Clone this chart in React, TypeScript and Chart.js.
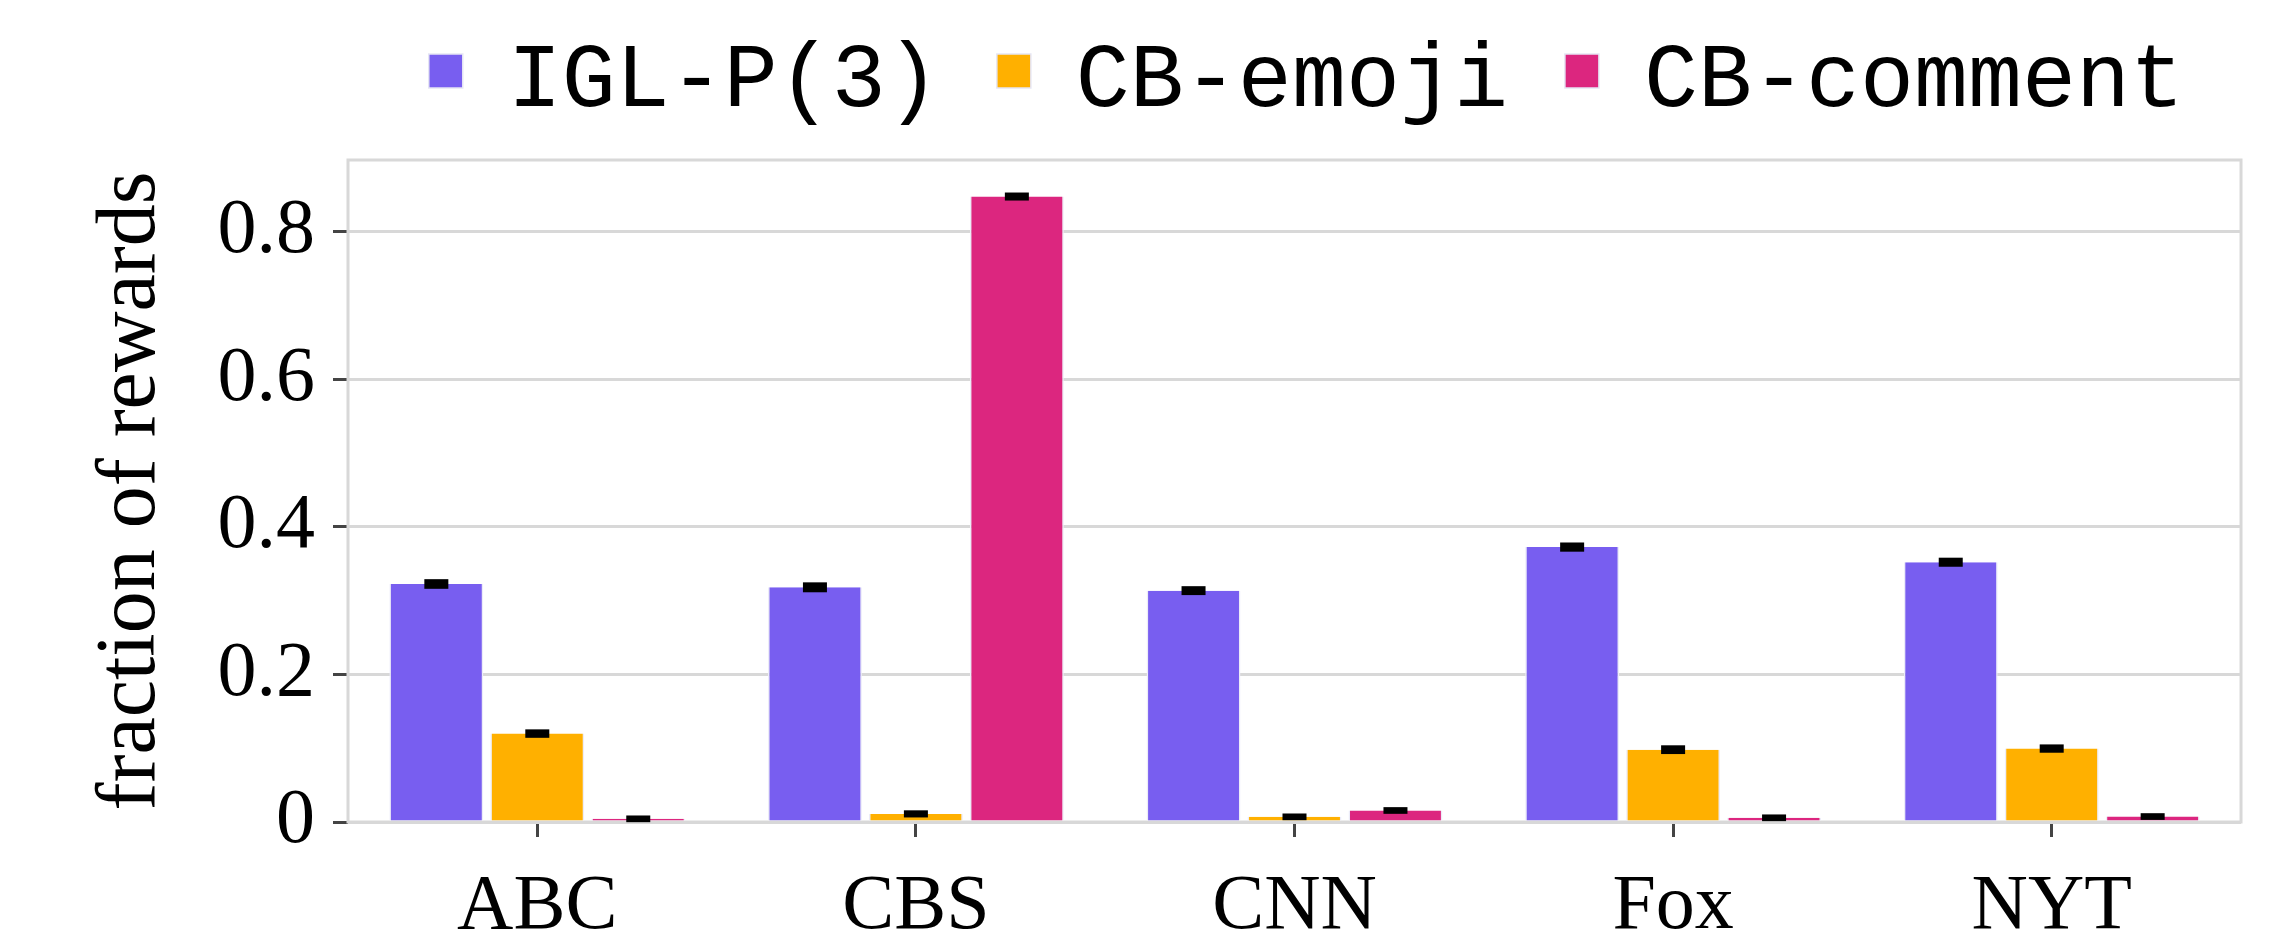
import React, { useEffect, useRef } from "react";
import { Chart, registerables } from "chart.js";

Chart.register(...registerables);

// ---- data ----
const categories = ["ABC", "CBS", "CNN", "Fox", "NYT"];
const seriesNames = ["IGL-P(3)", "CB-emoji", "CB-comment"];
const iglValues = [0.3225, 0.318, 0.3135, 0.3725, 0.352];
const emojiValues = [0.1198, 0.011, 0.007, 0.098, 0.0995];
const commentValues = [0.0043, 0.8475, 0.0156, 0.0057, 0.0074];
const iglErrors = [0.0045, 0.0047, 0.004, 0.0042, 0.0041];
const emojiErrors = [0.0037, 0.0028, 0.0025, 0.0039, 0.0036];
const commentErrors = [0.0025, 0.0034, 0.0025, 0.0025, 0.0025];
const yTickValues = [0, 0.2, 0.4, 0.6, 0.8];
const yTickLabels = ["0", "0.2", "0.4", "0.6", "0.8"];
const yMin = 0;
const yMax = 0.897;
const yTitle = "fraction of rewards";
const seriesColors = ["#785EF0", "#FFB000", "#DC267F"];

const W = 2277;
const H = 940;
const SERIF = '"Liberation Serif", "Times New Roman", Times, serif';
const MONO = '"Courier New", "Liberation Mono", monospace';

const framePlugin = {
  id: "frame",
  beforeDatasetsDraw(chart: any) {
    const { ctx, chartArea: a } = chart;
    ctx.save();
    ctx.strokeStyle = "#d8d8d8";
    ctx.lineWidth = 3;
    ctx.strokeRect(a.left, a.top, a.right - a.left, a.bottom - a.top);
    ctx.restore();
  },
};

const errorBarPlugin = {
  id: "errorBars",
  afterDatasetsDraw(chart: any) {
    const { ctx } = chart;
    const ys = chart.scales.y;
    chart.data.datasets.forEach((ds: any, i: number) => {
      const meta = chart.getDatasetMeta(i);
      meta.data.forEach((bar: any, j: number) => {
        const v = ds.data[j];
        const e = ds.errors[j];
        const yTop = ys.getPixelForValue(v + e);
        const yBot = ys.getPixelForValue(v - e);
        ctx.save();
        ctx.fillStyle = "#000";
        ctx.fillRect(bar.x - 12, yTop - 1.5, 24, yBot - yTop + 3);
        ctx.restore();
      });
    });
  },
};

const legendPlugin = {
  id: "customLegend",
  afterDraw(chart: any) {
    const { ctx, chartArea: a } = chart;
    const box = 34;
    const gap = 45;
    const pad = 57;
    ctx.save();
    ctx.font = `90px ${MONO}`;
    const widths = chart.data.datasets.map((ds: any) => ctx.measureText(ds.label).width);
    let total = 0;
    widths.forEach((w: number) => (total += box + gap + w + pad));
    let x = a.right - total;
    chart.data.datasets.forEach((ds: any, i: number) => {
      ctx.fillStyle = ds.backgroundColor;
      ctx.fillRect(x, 54, box, box);
      ctx.strokeStyle = "#e6e6f4";
      ctx.lineWidth = 1.5;
      ctx.strokeRect(x, 54, box, box);
      ctx.fillStyle = "#000";
      ctx.textBaseline = "alphabetic";
      ctx.textAlign = "left";
      ctx.fillText(ds.label, x + box + gap, 106);
      x += box + gap + widths[i] + pad;
    });
    ctx.restore();
  },
};

export default function App() {
  const ref = useRef<HTMLCanvasElement | null>(null);

  useEffect(() => {
    if (!ref.current) return;
    const values = [iglValues, emojiValues, commentValues];
    const errors = [iglErrors, emojiErrors, commentErrors];
    const chart = new Chart(ref.current, {
      type: "bar",
      data: {
        labels: categories,
        datasets: seriesNames.map((name, i) => ({
          label: name,
          data: values[i],
          errors: errors[i],
          backgroundColor: seriesColors[i],
          borderColor: "#ececf8",
          borderWidth: { left: 1.5, right: 1.5, top: 0, bottom: 0 },
          categoryPercentage: 0.8,
          barPercentage: 0.93,
        })) as any,
      },
      options: {
        animation: false,
        responsive: false,
        devicePixelRatio: 1,
        layout: { padding: { left: 0, right: 36, top: 160, bottom: 0 } },
        plugins: {
          legend: { display: false },
          tooltip: { enabled: false },
        },
        scales: {
          x: {
            offset: true,
            grid: {
              display: true,
              offset: false,
              drawOnChartArea: false,
              drawTicks: true,
              tickLength: 15,
              tickColor: "#444",
              tickWidth: 3,
            },
            border: { display: false },
            ticks: {
              color: "#000",
              font: { family: SERIF, size: 78 },
              padding: 24,
              autoSkip: false,
              maxRotation: 0,
            },
            afterFit(s: any) {
              s.height = H - 822;
            },
          },
          y: {
            min: yMin,
            max: yMax,
            grid: {
              color: "#d8d8d8",
              lineWidth: 3,
              drawTicks: true,
              tickLength: 15,
              tickColor: "#444",
              tickWidth: 3,
            },
            border: { display: false },
            ticks: {
              color: "#000",
              font: { family: SERIF, size: 78 },
              padding: 18,
              callback: (v: any) => {
                const idx = yTickValues.findIndex((t) => Math.abs(t - Number(v)) < 1e-9);
                return idx >= 0 ? yTickLabels[idx] : "";
              },
            },
            afterBuildTicks(s: any) {
              s.ticks = yTickValues.map((v) => ({ value: v }));
            },
            title: {
              display: true,
              text: yTitle,
              color: "#000",
              font: { family: SERIF, size: 84 },
              padding: { top: 82, bottom: 0 },
            },
            afterFit(s: any) {
              s.width = 348;
            },
          },
        },
      },
      plugins: [framePlugin, errorBarPlugin, legendPlugin],
    } as any);
    return () => chart.destroy();
  }, []);

  return (
    <div style={{ position: "absolute", left: 0, top: 0, width: W, height: H, background: "#fff" }}>
      <canvas ref={ref} width={W} height={H} style={{ display: "block", width: W, height: H }} />
    </div>
  );
}
